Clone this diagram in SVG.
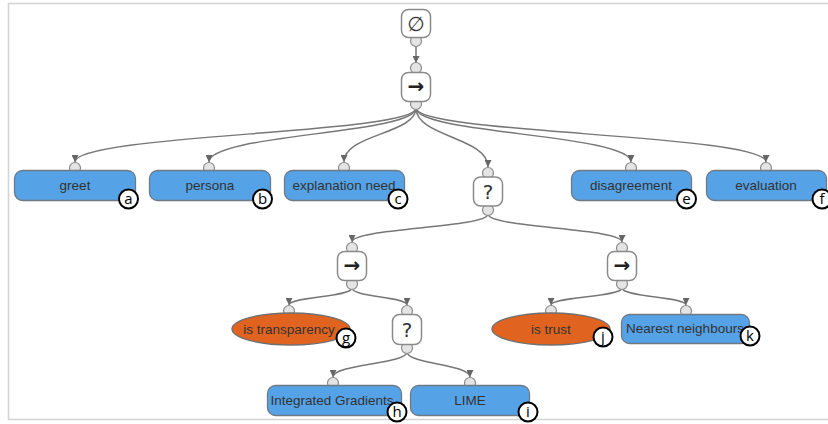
<svg xmlns="http://www.w3.org/2000/svg" width="828" height="424" viewBox="0 0 828 424">
<style>
.frame{fill:none;stroke:#d4d4d4;stroke-width:1.5}
.edge{fill:none;stroke:#777;stroke-width:1.5}
.port{fill:#e4e4e4;stroke:#8a8a8a;stroke-width:1.2}
.ctl{fill:#fff;stroke:#8a8a8a;stroke-width:1.5}
.act{fill:#55a2e6;stroke:#6f7a85;stroke-width:1.3}
.cond{fill:#e0631f;stroke:#6f6f6f;stroke-width:1.3}
.lbl{font-family:"Liberation Sans",Arial,sans-serif;font-size:13.5px;fill:#333;text-anchor:middle}
.sym{font-family:"DejaVu Sans",sans-serif;font-size:20px;fill:#333;text-anchor:middle}
.arr{font-family:"DejaVu Sans",sans-serif;font-size:20px;font-weight:bold;fill:#222;text-anchor:middle}
.badge{fill:#fff;stroke:#000;stroke-width:2}
.bt{font-family:"Open Sans","Liberation Sans",sans-serif;font-size:15px;fill:#000;text-anchor:middle}
</style>
<defs>
<marker id="ah" viewBox="0 0 10 10" refX="10" refY="5" markerWidth="7" markerHeight="7" orient="auto" markerUnits="userSpaceOnUse">
<path d="M0,0 L10,5 L0,10 Z" fill="#666"/>
</marker>
</defs>
<rect width="828" height="424" fill="#fff"/>
<path class="frame" d="M830,3.5 H8.5 V419.5 H830"/>

<g id="connectors">
<path class="edge" d="M416,46 V63" marker-end="url(#ah)"/>
<path class="edge" d="M416,108 C416,134 75,134 75,162" marker-end="url(#ah)"/>
<path class="edge" d="M416,108 C416,134 209,134 209,162" marker-end="url(#ah)"/>
<path class="edge" d="M416,108 C416,134 344,134 344,162" marker-end="url(#ah)"/>
<path class="edge" d="M416,108 C416,137 488,137 488,167" marker-end="url(#ah)"/>
<path class="edge" d="M416,108 C416,134 631,134 631,162" marker-end="url(#ah)"/>
<path class="edge" d="M416,108 C416,134 766,134 766,162" marker-end="url(#ah)"/>
<path class="edge" d="M488,214 C488,228 352,228 352,242" marker-end="url(#ah)"/>
<path class="edge" d="M488,214 C488,228 622,228 622,242" marker-end="url(#ah)"/>
<path class="edge" d="M352,288 C352,297 289,297 289,305" marker-end="url(#ah)"/>
<path class="edge" d="M352,288 C352,297 407,297 407,305" marker-end="url(#ah)"/>
<path class="edge" d="M622,288 C622,297 551,297 551,305" marker-end="url(#ah)"/>
<path class="edge" d="M622,288 C622,297 686,297 686,305" marker-end="url(#ah)"/>
<path class="edge" d="M407,352 C407,364 333,364 333,377" marker-end="url(#ah)"/>
<path class="edge" d="M407,352 C407,364 470,364 470,377" marker-end="url(#ah)"/>
</g>

<g id="root">
<circle class="port" cx="416" cy="41" r="5.5"/>
<rect class="ctl" x="401.5" y="9.5" width="29" height="28" rx="7"/>
<text class="sym" x="416" y="30.5">∅</text>
</g>

<g id="seq0">
<circle class="port" cx="416" cy="68" r="5.5"/>
<circle class="port" cx="416" cy="104" r="5.5"/>
<rect class="ctl" x="401.5" y="72.5" width="29" height="29" rx="7"/>
<text class="arr" x="416" y="93">→</text>
</g>

<g id="greet">
<circle class="port" cx="75" cy="168" r="5.5"/>
<rect class="act" x="14.5" y="170.5" width="121" height="30" rx="8"/>
<text class="lbl" x="75" y="190">greet</text>
<circle class="badge" cx="128.5" cy="199" r="9.5"/><text class="bt" x="128.5" y="204">a</text>
</g>

<g id="persona">
<circle class="port" cx="209" cy="168" r="5.5"/>
<rect class="act" x="149.5" y="170.5" width="121" height="30" rx="8"/>
<text class="lbl" x="210" y="190">persona</text>
<circle class="badge" cx="262.5" cy="199" r="9.5"/><text class="bt" x="262.5" y="204">b</text>
</g>

<g id="explanation-need">
<circle class="port" cx="344" cy="168" r="5.5"/>
<rect class="act" x="284.5" y="170.5" width="120" height="30" rx="8"/>
<text class="lbl" x="344" y="190">explanation need</text>
<circle class="badge" cx="398" cy="199" r="9.5"/><text class="bt" x="398" y="204">c</text>
</g>

<g id="sel0">
<circle class="port" cx="488" cy="173" r="5.5"/>
<circle class="port" cx="488" cy="210" r="5.5"/>
<rect class="ctl" x="473.5" y="177" width="29" height="29" rx="7"/>
<text class="sym" x="488" y="198.5">?</text>
</g>

<g id="disagreement">
<circle class="port" cx="631" cy="168" r="5.5"/>
<rect class="act" x="571.5" y="170.5" width="120" height="30" rx="8"/>
<text class="lbl" x="631" y="190">disagreement</text>
<circle class="badge" cx="686.5" cy="199" r="9.5"/><text class="bt" x="686.5" y="204">e</text>
</g>

<g id="evaluation">
<circle class="port" cx="766" cy="168" r="5.5"/>
<rect class="act" x="706.5" y="170.5" width="120" height="30" rx="8"/>
<text class="lbl" x="766" y="190">evaluation</text>
<circle class="badge" cx="822" cy="199" r="9.5"/><text class="bt" x="822" y="204">f</text>
</g>

<g id="seq1">
<circle class="port" cx="352" cy="248" r="5.5"/>
<circle class="port" cx="352" cy="284" r="5.5"/>
<rect class="ctl" x="337.5" y="251.5" width="29" height="29" rx="7"/>
<text class="arr" x="352" y="272">→</text>
</g>

<g id="seq2">
<circle class="port" cx="622" cy="248" r="5.5"/>
<circle class="port" cx="622" cy="284" r="5.5"/>
<rect class="ctl" x="607.5" y="251.5" width="29" height="29" rx="7"/>
<text class="arr" x="622" y="272">→</text>
</g>

<g id="is-transparency">
<circle class="port" cx="289" cy="311" r="5.5"/>
<ellipse class="cond" cx="291" cy="329" rx="59" ry="16"/>
<text class="lbl" x="289" y="334">is transparency</text>
<circle class="badge" cx="346" cy="338" r="9.5"/><text class="bt" x="346" y="343">g</text>
</g>

<g id="sel1">
<circle class="port" cx="407" cy="311" r="5.5"/>
<circle class="port" cx="407" cy="348" r="5.5"/>
<rect class="ctl" x="392.5" y="314.5" width="29" height="30" rx="7"/>
<text class="sym" x="407" y="337">?</text>
</g>

<g id="is-trust">
<circle class="port" cx="551" cy="311" r="5.5"/>
<ellipse class="cond" cx="551" cy="329" rx="59" ry="16"/>
<text class="lbl" x="551" y="334">is trust</text>
<circle class="badge" cx="603" cy="337" r="9.5"/><text class="bt" x="603" y="342">j</text>
</g>

<g id="nearest-neighbours">
<circle class="port" cx="686" cy="311" r="5.5"/>
<rect class="act" x="621.5" y="314.5" width="128" height="29" rx="8"/>
<text class="lbl" x="685" y="333">Nearest neighbours</text>
<circle class="badge" cx="750" cy="336" r="9.5"/><text class="bt" x="750" y="341">k</text>
</g>

<g id="integrated-gradients">
<circle class="port" cx="333" cy="383" r="5.5"/>
<rect class="act" x="267.5" y="385.5" width="134" height="30" rx="8"/>
<text class="lbl" x="332" y="405" font-size="13">Integrated Gradients</text>
<circle class="badge" cx="397" cy="412" r="9.5"/><text class="bt" x="397" y="417">h</text>
</g>

<g id="lime">
<circle class="port" cx="470" cy="383" r="5.5"/>
<rect class="act" x="410.5" y="385.5" width="119" height="30" rx="8"/>
<text class="lbl" x="470" y="405">LIME</text>
<circle class="badge" cx="528" cy="412" r="9.5"/><text class="bt" x="528" y="417">i</text>
</g>
</svg>
